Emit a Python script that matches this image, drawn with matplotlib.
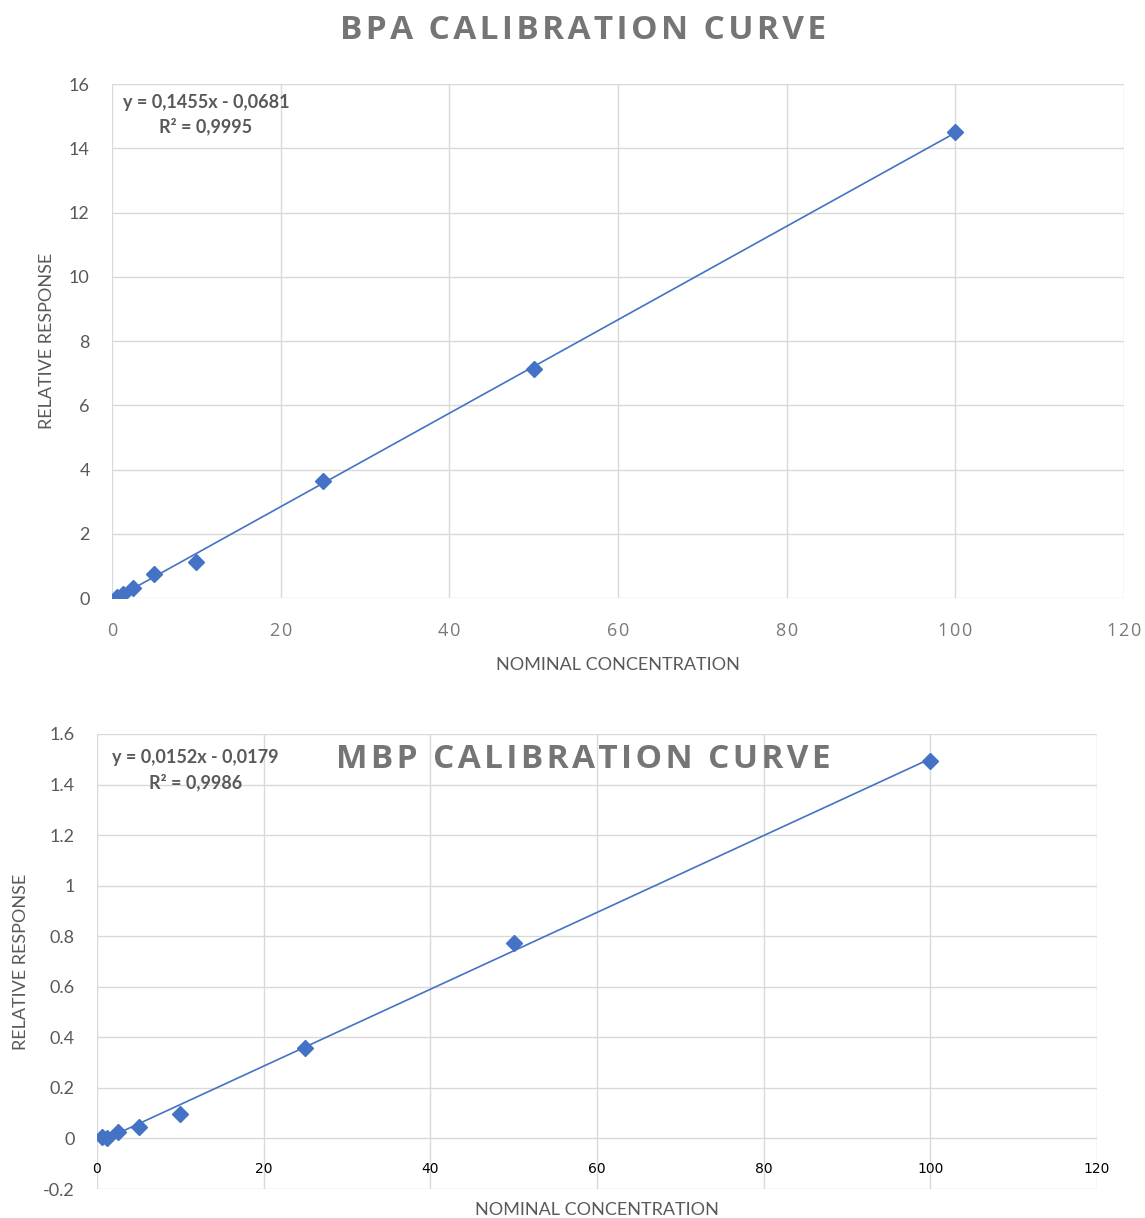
import matplotlib.pyplot as plt
import numpy as np

# calibration data
conc = [0.625, 1.25, 2.5, 5, 10, 25, 50, 100]
bpa_resp = [0.03, 0.12, 0.32, 0.74, 1.12, 3.65, 7.13, 14.52]
mbp_resp = [0.005, 0.0, 0.025, 0.045, 0.097, 0.356, 0.772, 1.494]

bpa_fit = (0.1455, -0.0681, 0.9995)
mbp_fit = (0.0152, -0.0179, 0.9986)

xticks = [0, 20, 40, 60, 80, 100, 120]
bpa_yticks = [0, 2, 4, 6, 8, 10, 12, 14, 16]
mbp_yticks = [-0.2, 0, 0.2, 0.4, 0.6, 0.8, 1, 1.2, 1.4, 1.6]
mbp_ylabels = ['-0.2', '0', '0.2', '0.4', '0.6', '0.8', '1', '1.2', '1.4', '1.6']

blue = '#4472C4'
grey = '#595959'
title_grey = '#757575'
gridc = '#D9D9D9'
body = 'Lato'
head = ['Open Sans', 'DejaVu Sans']


def spaced(s, gap='\u200a'):
    return gap.join(s)


fig = plt.figure(figsize=(11.45, 12.18), dpi=100)
ax1 = fig.add_axes([0.0978, 0.509, 0.8838, 0.422])
ax2 = fig.add_axes([0.0847, 0.0238, 0.8734, 0.3736])


def style(ax, yt, ylabels):
    ax.set_xlim(0, 120)
    ax.set_ylim(yt[0], yt[-1])
    ax.set_xticks(xticks)
    ax.set_yticks(yt)
    ax.set_yticklabels(ylabels, fontsize=13, color=grey, family=body)
    ax.grid(True, color=gridc, lw=1)
    ax.set_axisbelow(True)
    for s in ax.spines.values():
        s.set_visible(False)
    ax.tick_params(length=0)
    ax.tick_params(axis='y', pad=16)
    ax.set_xlabel('NOMINAL CONCENTRATION', fontsize=13, color=grey, family=body)
    ax.set_ylabel('RELATIVE RESPONSE', fontsize=13, color=grey, family=body, labelpad=10)


def draw(ax, resp, fit):
    m, b, r2 = fit
    xs = np.array([min(conc), max(conc)])
    ax.plot(xs, m * xs + b, color=blue, lw=1.2, zorder=2)
    ax.plot(conc, resp, 'D', color=blue, ms=8.5, zorder=3)
    eq = 'y = {}x - {}\nR² = {}'.format(f'{m:.4f}'.replace('.', ','),
                                        f'{-b:.4f}'.replace('.', ','),
                                        f'{r2:.4f}'.replace('.', ','))
    return eq


# BPA
style(ax1, bpa_yticks, [str(t) for t in bpa_yticks])
ax1.set_xticklabels([spaced(str(t)) for t in xticks], fontsize=13, color='#7A7A7A', family=head)
ax1.tick_params(axis='x', pad=17)
ax1.xaxis.set_label_coords(0.5, -0.114)
eq1 = draw(ax1, bpa_resp, bpa_fit)
ax1.text(0.0105, 0.981, eq1, transform=ax1.transAxes, ha='left', va='top', fontsize=13,
         fontweight='bold', color=grey, family=body, multialignment='center', linespacing=1.45)
fig.text(0.5096, 0.975, spaced('BPA CALIBRATION CURVE'), ha='center', va='center', fontsize=24,
         fontweight='bold', color=title_grey, family=head)

# MBP
style(ax2, mbp_yticks, mbp_ylabels)
ax2.set_xticklabels([str(t) for t in xticks], fontsize=14, color=grey, family=body)
ax2.spines['bottom'].set_position(('data', 0))
ax2.tick_params(axis='x', pad=17)
ax2.xaxis.set_label_coords(0.5, -0.029)
eq2 = draw(ax2, mbp_resp, mbp_fit)
ax2.text(0.015, 0.966, eq2, transform=ax2.transAxes, ha='left', va='top', fontsize=13,
         fontweight='bold', color=grey, family=body, multialignment='center', linespacing=1.45)
ax2.text(0.486, 0.943, spaced('MBP CALIBRATION CURVE'), transform=ax2.transAxes, ha='center',
         va='center', fontsize=24, fontweight='bold', color=title_grey, family=head)

fig.savefig('out.png', dpi=100)
